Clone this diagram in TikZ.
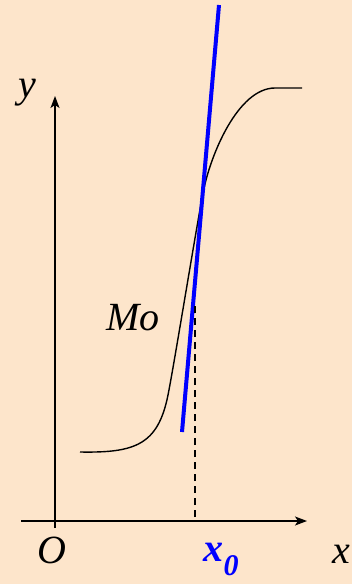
\documentclass[tikz,border=0pt]{standalone}
\usepackage{fontspec}
\setmainfont{Liberation Serif}
\usepackage{xcolor}
\usetikzlibrary{arrows.meta}
\definecolor{bgpeach}{RGB}{253,229,203}

\begin{document}
\begin{tikzpicture}[x=1pt, y=-1pt, >={Stealth[length=12pt,width=9pt,inset=3pt]},
		lbl/.style={anchor=base, inner sep=0pt, font=\fontsize{40}{42}\selectfont\itshape}]
			\fill[bgpeach] (0,0) rectangle (352,584);
			\useasboundingbox (0,0) rectangle (352,584);

			% axes
			\coordinate (xs) at (21,521);
			\coordinate (xe) at (307,521);
			\coordinate (ys) at (55,528);
			\coordinate (ye) at (55,96);
			\draw[->, line width=1.4pt] (xs) -- (xe);
			\draw[->, line width=1.4pt] (ys) -- (ye);

			\node[lbl] (O) at (52,563) {O};
			\node[lbl] (xl) at (341,563) {x};
			\node[lbl] (yl) at (27,97) {y};
			\node[lbl] (mo) at (133,330) {Mo};
			\node[lbl, text=blue, font=\fontsize{40}{42}\selectfont\bfseries\itshape] (x0) at (221,561)
				{x\raisebox{-14pt}{\fontsize{30}{32}\selectfont 0}};

			% curve
			\draw[line width=1.4pt] (80,452) .. controls (135,453) and (158,445) .. (168,395)
				.. controls (174,365) and (195.4,233) .. (203,193)
				.. controls (210.2,155) and (238,88) .. (275,88) -- (302,88);

			% tangent at x0
			\coordinate (tb) at (182,432);
			\coordinate (tt) at (219,5);
			\draw[blue, line width=4pt] (tb) -- (tt);

			\coordinate (db) at (195,517);
			\coordinate (dt) at (195,305);
			\draw[dashed, line width=1.3pt, dash pattern=on 7pt off 5pt] (db) -- (dt);
		\end{tikzpicture}
\end{document}
